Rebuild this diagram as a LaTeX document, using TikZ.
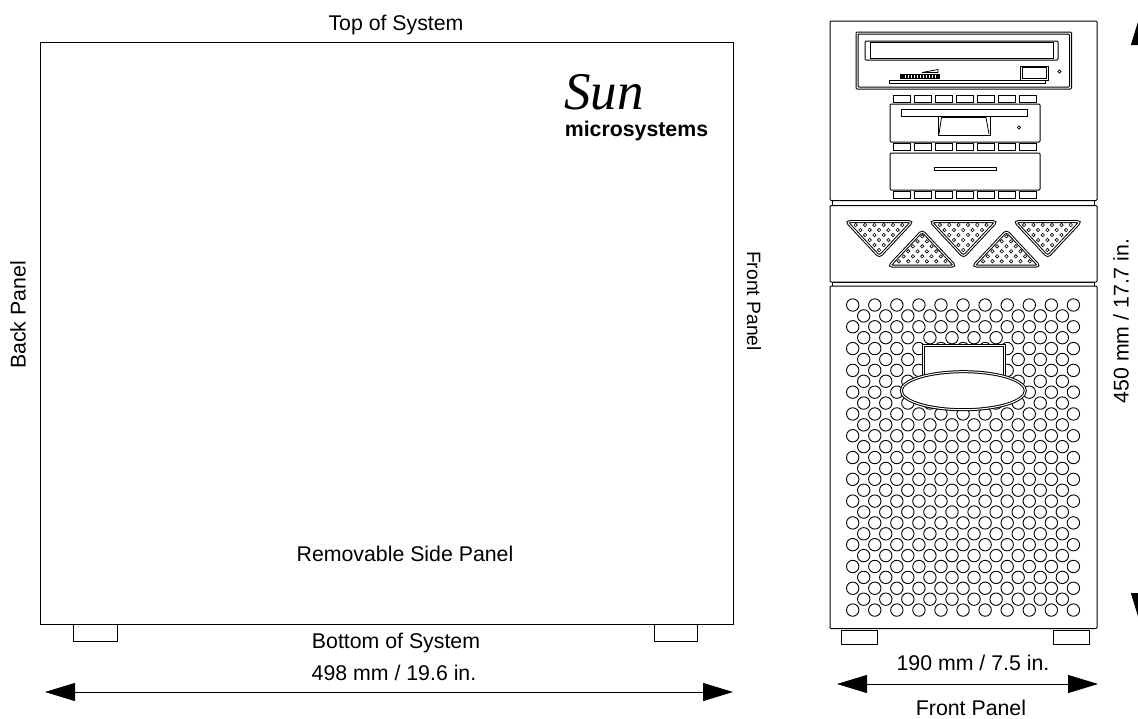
\documentclass[tikz,border=0pt]{standalone}
\usepackage{fontspec}
\setmainfont{Liberation Sans}
\newfontfamily\sunfont{Liberation Serif}
\usetikzlibrary{arrows.meta}
\tikzset{
  panel/.style={draw,line width=1pt,rounded corners=1pt,fill=white},
  plainbox/.style={draw,line width=1pt},
  doublebox/.style={draw,line width=1pt,fill=white,double distance=1pt},
  hole/.style={draw,line width=0.9pt},
  dot/.style={draw,line width=0.6pt},
  dimline/.style={draw,line width=1pt,{Triangle[length=30pt,width=18pt]}-{Triangle[length=30pt,width=18pt]}},
  label/.style={font=\fontsize{21.3}{24}\selectfont,inner sep=0pt}
}
\begin{document}
\begin{tikzpicture}[x=1pt,y=-1pt]
\clip (0,0) rectangle (1138,718);
\fill[white] (0,0) rectangle (1138,718);

% side view
\draw[plainbox] (40,42) rectangle (733,624);
\draw[plainbox] (73,624) rectangle (117,641);
\draw[plainbox] (654,624) rectangle (697,641);
\node[label] (top) at (396,25) {Top of System};
\node[label] (bottom) at (396,643) {Bottom of System};
\node[label] (side) at (405,554) {Removable Side Panel};
\node[label] (width) at (394,673) {498 mm / 19.6 in.};
\node[label,rotate=90] (back) at (18,315) {Back Panel};
\node[label,rotate=-90,font=\fontsize{19.3}{22}\selectfont] (front) at (754,301) {Front Panel};
\node[inner sep=0pt,font=\sunfont\itshape\fontsize{53}{56}\selectfont] (sun) at (604,92) {Sun};
\node[inner sep=0pt,font=\bfseries\fontsize{21.3}{24}\selectfont] (micro) at (636.5,131) {microsystems};
\coordinate (a1) at (45,692);
\coordinate (a2) at (733,692);
\draw[dimline] (a1) -- (a2);

% front view
\draw[plainbox] (832.5,200) rectangle (1094.5,206);
\draw[plainbox] (832.5,282) rectangle (1094.5,286);
\draw[panel] (830,21) rectangle (1097,200.5);
\draw[panel] (830,205.5) rectangle (1097,282);
\draw[panel] (830,286) rectangle (1097,628.5);
\draw[plainbox] (841,630) rectangle (877,644);
\draw[plainbox] (1053,630) rectangle (1089,644);

% cd drive
\draw[panel] (856,32) rectangle (1071.5,89);
\draw[panel] (858,34) rectangle (1069.5,87);
\draw[panel] (865,41) rectangle (1058,60);
\draw[plainbox] (870,42.5) rectangle (1053,58);
\draw[plainbox] (1020,66) rectangle (1048,80);
\draw[plainbox] (1022,67.5) rectangle (1046,78.5);
\draw[dot] (1059.5,71.5) circle (1.6);
\draw[plainbox] (889.5,80.7) rectangle (1045,83.3);
\fill (900,74) rectangle (940,78.5);
\foreach \x in {905,908,...,935}
  \draw[white,line width=0.7pt] (\x,74.5) -- (\x,78);
\draw[line width=0.8pt,fill=white] (922,72.5) -- (938,69.5) -- (938,72.5) -- cycle;

% small buttons
\foreach \y in {95,143,191}
  \foreach \x in {893,914,...,1019}
    \draw[plainbox] (\x,\y) rectangle ++(17,7);

% floppy drive
\draw[panel] (890,104) rectangle (1040,142);
\draw[plainbox] (901,109) rectangle (1027,116);
\draw[plainbox] (938.5,116) -- (938.5,135) -- (990,135) -- (990,116);
\draw[line width=0.8pt] (941.5,117.5) -- (986,117.5) -- (989,134) (941.5,117.5) -- (939,134);
\draw[dot] (1019,127.5) circle (1.6);

% tape drive
\draw[panel] (890,153) rectangle (1040,190);
\draw[plainbox] (934,167) rectangle (996,170.5);

% vents
\foreach \dx in {0,84.2,168.4}
{
  \draw[doublebox,rounded corners=3pt] (846.7+\dx,221.7) -- (912+\dx,221.7) -- (879.3+\dx,256.7) -- cycle;
  \foreach \row in {0,...,5}
    \foreach \col in {0,...,\numexpr5-\row\relax}
      \draw[dot] (855.7+\dx+\row*4.67+\col*9.33,225+\row*5) circle (1.7);
}
\foreach \dx in {0,84.2}
{
  \draw[doublebox,rounded corners=3pt] (889.3+\dx,266) -- (955+\dx,266) -- (922.2+\dx,231) -- cycle;
  \foreach \row in {0,...,5}
    \foreach \col in {0,...,\numexpr5-\row\relax}
      \draw[dot] (898.9+\dx+\row*4.67+\col*9.33,261.3-\row*5) circle (1.7);
}

% grille
\foreach \row in {0,...,14}
  \foreach \col in {0,...,10}
    \draw[hole] (852.7+\col*22.07,305+\row*21.79) circle (6.2);
\foreach \row in {0,...,13}
  \foreach \col in {0,...,9}
    \draw[hole] (863.7+\col*22.07,315.9+\row*21.79) circle (6.2);

% handle
\draw[doublebox] (923.5,345) rectangle (1004,392);
\draw[doublebox] (963.3,390.7) ellipse (62 and 19);

% dimensions
\node[label] (fwidth) at (973,663) {190 mm / 7.5 in.};
\node[label] (fpanel) at (971,708) {Front Panel};
\node[label,rotate=90] (height) at (1121,321) {450 mm / 17.7 in.};
\coordinate (b1) at (837,684);
\coordinate (b2) at (1098,684);
\draw[dimline] (b1) -- (b2);
\coordinate (c1) at (1140,15);
\coordinate (c2) at (1140,623);
\draw[dimline] (c1) -- (c2);
\end{tikzpicture}
\end{document}
